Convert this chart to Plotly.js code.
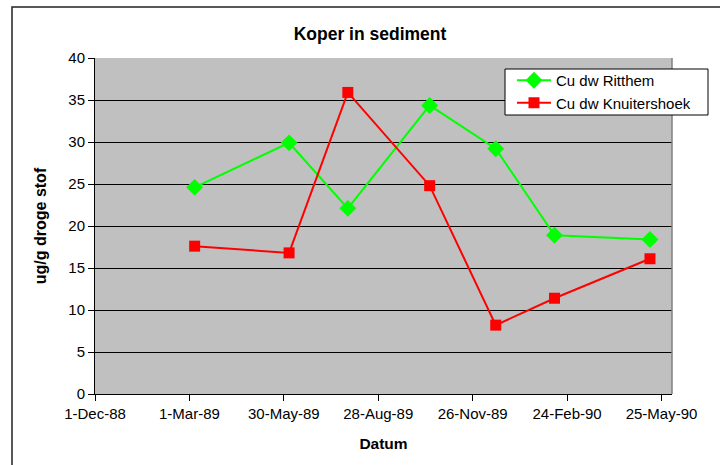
<!DOCTYPE html>
<html>
<head>
<meta charset="utf-8">
<script src="https://cdn.plot.ly/plotly-3.0.1.min.js"></script>
<style>
html,body{margin:0;padding:0;background:#fff;}
#chart{width:720px;height:465px;}
</style>
</head>
<body>
<div id="chart"></div>
<script>
const dates = ['1989-03-06','1989-06-04','1989-07-30','1989-10-16','1989-12-18','1990-02-12','1990-05-14'];
const ritthem = [24.6, 29.9, 22.1, 34.35, 29.2, 18.9, 18.4];
const knuitershoek = [17.6, 16.8, 35.9, 24.8, 8.2, 11.4, 16.1];
const seriesNames = ['Cu dw Ritthem', 'Cu dw Knuitershoek'];

const L = 95, R = 672, T = 58, B = 394;
const pw = R - L, ph = B - T;
function px(x){return (x - L)/pw;}
function py(y){return (B - y)/ph;}

const traces = [
  {x: dates, y: ritthem, name: seriesNames[0], type: 'scatter', mode: 'lines+markers',
   line: {color: '#00FF00', width: 2}, marker: {symbol: 'diamond', size: 13, color: '#00FF00'}},
  {x: dates, y: knuitershoek, name: seriesNames[1], type: 'scatter', mode: 'lines+markers',
   line: {color: '#FF0000', width: 2}, marker: {symbol: 'square', size: 11, color: '#FF0000'}}
];

const layout = {
  width: 720, height: 465,
  margin: {l: L, r: 720 - R, t: T, b: 465 - B, pad: 0},
  paper_bgcolor: '#FFFFFF',
  plot_bgcolor: '#C0C0C0',
  font: {family: 'Liberation Sans, Arial, sans-serif', size: 15, color: '#000'},
  title: {text: '<b>Koper in sediment</b>', font: {size: 17.5}, x: 370/720, xref: 'container', xanchor: 'center', y: 1 - 34/465, yref: 'container', yanchor: 'middle'},
  xaxis: {
    type: 'date',
    range: ['1988-12-01', '1990-06-04'],
    tick0: '1988-12-01', dtick: 90*86400000,
    tickformat: '%-d-%b-%y',
    ticks: 'outside', ticklen: 6, tickcolor: '#000',
    showline: true, linecolor: '#000', linewidth: 1,
    showgrid: false, zeroline: false,
    title: {text: '<b>Datum</b>', font: {size: 15.5}, standoff: 17},
    tickfont: {size: 15}
  },
  yaxis: {
    range: [0, 40], dtick: 5,
    ticks: 'outside', ticklen: 6, tickcolor: '#000',
    showline: true, linecolor: '#000', linewidth: 1,
    showgrid: true, gridcolor: '#000', gridwidth: 1,
    zeroline: false,
    title: {text: '<b>ug/g droge stof</b>', font: {size: 16}, standoff: 17},
    tickfont: {size: 15}
  },
  legend: {
    x: px(512), y: py(64), xanchor: 'left', yanchor: 'top',
    bgcolor: 'rgba(0,0,0,0)', borderwidth: 0,
    font: {size: 15}, tracegroupgap: 0, itemwidth: 34
  },
  showlegend: true,
  shapes: [
    {type: 'line', xref: 'paper', yref: 'paper', x0: 1, x1: 1, y0: 0, y1: 1, line: {color: '#808080', width: 1.5}, layer: 'above'},
    {type: 'rect', xref: 'paper', yref: 'paper', x0: px(505), x1: px(708), y0: py(115), y1: py(69), fillcolor: '#FFFFFF', line: {color: '#000', width: 1}, layer: 'above'},
    {type: 'rect', xref: 'paper', yref: 'paper', x0: px(12), x1: px(730), y0: py(475), y1: py(7), line: {color: '#222', width: 1.5}, layer: 'above'}
  ]
};

Plotly.newPlot('chart', traces, layout, {displayModeBar: false, staticPlot: true});
</script>
</body>
</html>
